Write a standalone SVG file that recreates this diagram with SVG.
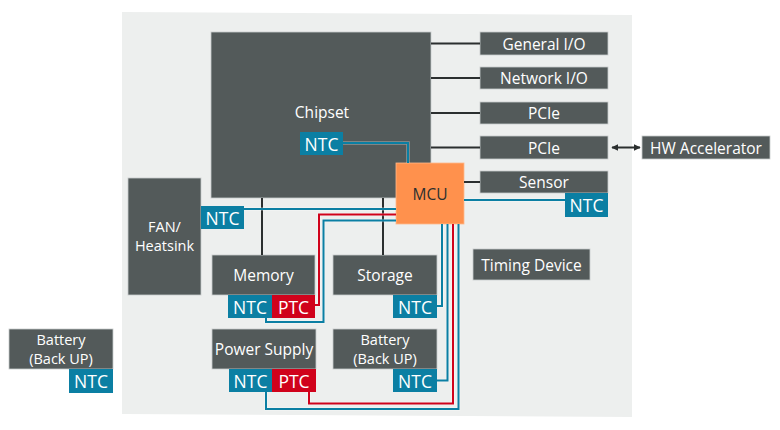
<svg xmlns="http://www.w3.org/2000/svg" width="780" height="430" viewBox="0 0 780 430">
<style>
.box{fill:#535a5a;stroke:#c9cccc;stroke-width:0.8}
.ntc{fill:#0b7fa3}
.ptc{fill:#d0021b}
.mcu{fill:#ff914d;stroke:#ffb88a;stroke-width:0.8}
.t{font-family:"Open Sans","Noto Sans",sans-serif;font-size:15.5px;fill:#ffffff;text-anchor:middle;dominant-baseline:central}
.t2{font-family:"Open Sans","Noto Sans",sans-serif;font-size:14.5px;fill:#ffffff;text-anchor:middle;dominant-baseline:central}
.s{font-family:"Open Sans","Noto Sans",sans-serif;font-size:17.5px;fill:#ffffff;text-anchor:middle;dominant-baseline:central}
.k{stroke:#2b2f2f;stroke-width:2;fill:none}
.halo{stroke:#ffffff;stroke-opacity:0.35;stroke-width:3.6;fill:none}
.b{stroke:#0b7fa3;stroke-width:2;fill:none}
.r{stroke:#d0021b;stroke-width:2;fill:none}
</style>
<defs>
<marker id="ah" viewBox="0 0 10 10" refX="9" refY="5" markerWidth="7" markerHeight="7" orient="auto-start-reverse" markerUnits="userSpaceOnUse">
<path d="M0,0 L10,5 L0,10 z" fill="#2b2f2f"/>
</marker>
</defs>
<polygon points="122,12 632,15 632,417 122,414" fill="#edefee"/>

<g id="chipset">
<rect class="box" x="211" y="32" width="220" height="166"/>
<text class="t" x="322" y="112">Chipset</text>
</g>
<g id="chipset-ntc">
<rect class="ntc" x="300" y="132" width="43" height="23"/>
<text class="s" x="321.5" y="143.5">NTC</text>
</g>
<g id="mcu">
<rect class="mcu" x="396" y="163" width="68" height="61"/>
<text class="t" x="430" y="193.5" style="fill:#2b2f2f">MCU</text>
</g>
<g id="general-io">
<rect class="box" x="480" y="32" width="128" height="23"/>
<text class="t" x="544" y="43.5">General I/O</text>
</g>
<g id="network-io">
<rect class="box" x="480" y="67" width="128" height="22"/>
<text class="t" x="544" y="78">Network I/O</text>
</g>
<g id="pcie1">
<rect class="box" x="480" y="102" width="128" height="22"/>
<text class="t" x="544" y="113">PCIe</text>
</g>
<g id="pcie2">
<rect class="box" x="480" y="136" width="128" height="23"/>
<text class="t" x="544" y="147.5">PCIe</text>
</g>
<g id="hw-accelerator">
<rect class="box" x="642" y="136" width="128" height="23"/>
<text class="t" x="706" y="147.5">HW Accelerator</text>
</g>
<g id="sensor">
<rect class="box" x="480" y="171" width="128" height="22"/>
<text class="t" x="544" y="182">Sensor</text>
</g>
<g id="sensor-ntc">
<rect class="ntc" x="565" y="193" width="43" height="24"/>
<text class="s" x="586.5" y="205">NTC</text>
</g>
<g id="fan-heatsink">
<rect class="box" x="128" y="178" width="73" height="117"/>
<text class="t2" x="164.5" y="226">FAN/</text>
<text class="t2" x="164.5" y="245">Heatsink</text>
</g>
<g id="fan-ntc">
<rect class="ntc" x="201" y="206" width="43" height="23"/>
<text class="s" x="222.5" y="217.5">NTC</text>
</g>
<g id="memory">
<rect class="box" x="212" y="255" width="103" height="40"/>
<text class="t" x="263.5" y="275">Memory</text>
</g>
<g id="memory-ntc">
<rect class="ntc" x="228" y="295" width="44" height="23"/>
<text class="s" x="250" y="306.5">NTC</text>
</g>
<g id="memory-ptc">
<rect class="ptc" x="272" y="295" width="43" height="23"/>
<text class="s" x="293.5" y="306.5">PTC</text>
</g>
<g id="storage">
<rect class="box" x="333" y="255" width="104" height="40"/>
<text class="t" x="385" y="275">Storage</text>
</g>
<g id="storage-ntc">
<rect class="ntc" x="393" y="295" width="44" height="23"/>
<text class="s" x="415" y="306.5">NTC</text>
</g>
<g id="timing-device">
<rect class="box" x="473" y="249" width="117" height="31"/>
<text class="t" x="531.5" y="265">Timing Device</text>
</g>
<g id="power-supply">
<rect class="box" x="212" y="329" width="104" height="40"/>
<text class="t" x="264" y="349">Power Supply</text>
</g>
<g id="power-ntc">
<rect class="ntc" x="229" y="369" width="43" height="23"/>
<text class="s" x="250.5" y="380.5">NTC</text>
</g>
<g id="power-ptc">
<rect class="ptc" x="272" y="369" width="44" height="23"/>
<text class="s" x="294" y="380.5">PTC</text>
</g>
<g id="battery-inner">
<rect class="box" x="333" y="329" width="104" height="40"/>
<text class="t2" x="385" y="339.5">Battery</text>
<text class="t2" x="385" y="358.5">(Back UP)</text>
</g>
<g id="battery-inner-ntc">
<rect class="ntc" x="393" y="369" width="44" height="23"/>
<text class="s" x="415" y="380.5">NTC</text>
</g>
<g id="battery-outer">
<rect class="box" x="9" y="329" width="104" height="40"/>
<text class="t2" x="61" y="339.5">Battery</text>
<text class="t2" x="61" y="358.5">(Back UP)</text>
</g>
<g id="battery-outer-ntc">
<rect class="ntc" x="69" y="369" width="44" height="24"/>
<text class="s" x="91" y="381">NTC</text>
</g>

<g id="connectors">
<path class="k" d="M431,43.5H480 M431,78H480 M431,113H480 M431,147.5H480 M464,182H480 M262,198V255 M383,198V255"/>
<line class="k" x1="612" y1="147.5" x2="640" y2="147.5" marker-start="url(#ah)" marker-end="url(#ah)"/>
<path class="halo" d="M343,143H408V163"/>
<path class="halo" d="M244,209H396"/>
<path class="halo" d="M315,305H319V214.5H396"/>
<path class="halo" d="M266,318V322H323.5V220.5H396"/>
<path class="halo" d="M464,200H565"/>
<path class="halo" d="M437,306H442V224"/>
<path class="halo" d="M437,380.5H447.5V224"/>
<path class="halo" d="M309,392V403.5H453V224"/>
<path class="halo" d="M266,392V409H458.5V224"/>
<path class="b" d="M343,143H408V163"/>
<path class="b" d="M244,209H396"/>
<path class="r" d="M315,305H319V214.5H396"/>
<path class="b" d="M266,318V322H323.5V220.5H396"/>
<path class="b" d="M464,200H565"/>
<path class="b" d="M437,306H442V224"/>
<path class="b" d="M437,380.5H447.5V224"/>
<path class="r" d="M309,392V403.5H453V224"/>
<path class="b" d="M266,392V409H458.5V224"/>
</g>
</svg>
